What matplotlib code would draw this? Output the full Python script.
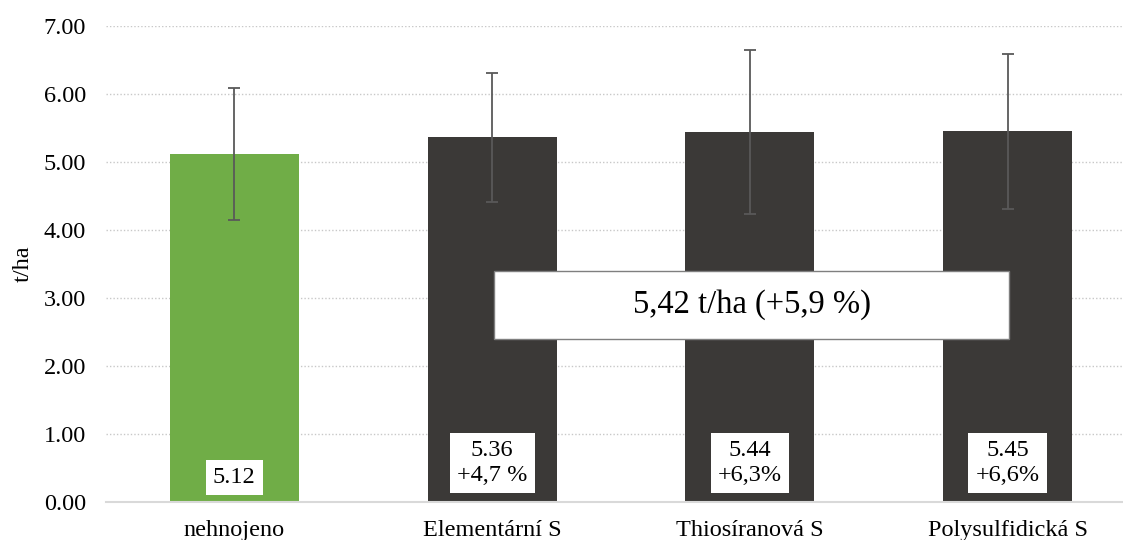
import matplotlib
matplotlib.use("Agg")
import matplotlib.pyplot as plt

categories = ['nehnojeno', 'Elementární S', 'Thiosíranová S', 'Polysulfidická S']
values = [5.12, 5.36, 5.44, 5.45]
errors = [0.97, 0.95, 1.21, 1.14]
bar_labels = ['5.12', '5.36\n+4,7 %', '5.44\n+6,3%', '5.45\n+6,6%']
bar_colors = ['#70ad47', '#3b3937', '#3b3937', '#3b3937']
summary_text = '5,42 t/ha (+5,9 %)'
yticks = [0, 1, 2, 3, 4, 5, 6, 7]
ytick_labels = ['0.00', '1.00', '2.00', '3.00', '4.00', '5.00', '6.00', '7.00']

plt.rcParams['font.family'] = ['Liberation Serif', 'DejaVu Serif']

W, H = 1123, 540
fig = plt.figure(figsize=(W / 100, H / 100), dpi=100)
left, right = 105.5, 1136.5
bottom, top = 502, 25.8
ax = fig.add_axes([left / W, 1 - bottom / H, (right - left) / W, (bottom - top) / H])

x = list(range(len(categories)))
ax.bar(x, values, width=0.5, color=bar_colors, zorder=2)
ax.errorbar(x, values, yerr=errors, fmt='none', ecolor='#595959',
            elinewidth=1.3, capsize=4.3, capthick=1.3, zorder=3)

ax.set_xlim(-0.5, len(categories) - 0.5)
ax.set_ylim(0, 7)
ax.set_yticks(yticks)
ax.set_yticklabels(ytick_labels)
ax.set_xticks(x)
ax.set_xticklabels(categories)
ax.tick_params(axis='both', length=0, labelsize=17.5, colors='black')
ax.tick_params(axis='y', pad=14)
ax.tick_params(axis='x', pad=13)

ax.grid(axis='y', linestyle=(0, (1, 1.5)), color='#c8c8c8', linewidth=1.0, zorder=0)
ax.set_axisbelow(True)
for s in ['top', 'right', 'left']:
    ax.spines[s].set_visible(False)
ax.spines['bottom'].set_color('#d9d9d9')
ax.spines['bottom'].set_linewidth(1.5)
ax.spines['bottom'].set_zorder(4)

ax.set_ylabel('t/ha', fontsize=17.5, va='center')
ax.yaxis.set_label_coords((23 - left) / (right - left), 0.5)

for xi, lab in zip(x, bar_labels):
    nlines = lab.count('\n') + 1
    yc = 0.36 if nlines == 1 else 0.574
    ax.text(xi, yc, lab, ha='center', va='center', fontsize=17.5,
            linespacing=1.25, zorder=5,
            bbox=dict(boxstyle='square,pad=0.3', facecolor='white', edgecolor='none'))

# summary box
bx0, bx1, by0, by1 = 1.009, 3.004, 2.40, 3.40
ax.add_patch(plt.Rectangle((bx0, by0), bx1 - bx0, by1 - by0, facecolor='white',
                           edgecolor='#7f7f7f', linewidth=1.0, zorder=5))
ax.text((bx0 + bx1) / 2, (by0 + by1) / 2, summary_text, ha='center', va='center',
        fontsize=23.5, zorder=6)

fig.savefig('out.png', dpi=100)
